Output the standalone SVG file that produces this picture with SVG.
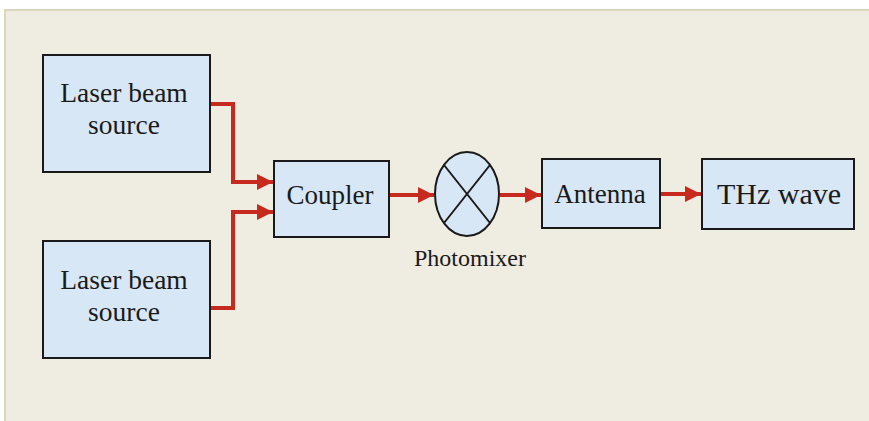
<svg xmlns="http://www.w3.org/2000/svg" width="869" height="421" viewBox="0 0 869 421">
<defs>
<style>
.box{fill:#d8e7f5;stroke:#1a1a1a;stroke-width:2}
.lbl{font-family:"Liberation Serif","Times New Roman",serif;fill:#1a1a1a;text-anchor:middle}
.wire{fill:none;stroke:#c62a1f;stroke-width:4}
</style>
<marker id="arr" viewBox="0 0 16 16" refX="16" refY="8" markerWidth="16" markerHeight="16" markerUnits="userSpaceOnUse" orient="auto">
<path d="M0,0 L16,8 L0,16 Z" fill="#c62a1f"/>
</marker>
</defs>
<rect x="0" y="0" width="869" height="421" fill="#ffffff"/>
<rect x="5" y="10" width="880" height="430" fill="#efece1" stroke="#dcd5c0" stroke-width="2"/>
<g id="connectors">
<path class="wire" d="M211,104 H233 V182 H273" marker-end="url(#arr)"/>
<path class="wire" d="M211,308 H233 V212 H273" marker-end="url(#arr)"/>
<path class="wire" d="M390,195 H434" marker-end="url(#arr)"/>
<path class="wire" d="M500,195 H541" marker-end="url(#arr)"/>
<path class="wire" d="M661,194 H701" marker-end="url(#arr)"/>
</g>
<g id="laser1">
<rect class="box" x="43" y="55" width="167" height="117"/>
<text class="lbl" x="124" y="102" font-size="27.5">Laser beam</text>
<text class="lbl" x="124" y="134" font-size="27.5">source</text>
</g>
<g id="laser2">
<rect class="box" x="43" y="241" width="167" height="117"/>
<text class="lbl" x="124" y="289" font-size="27.5">Laser beam</text>
<text class="lbl" x="124" y="321" font-size="27.5">source</text>
</g>
<g id="coupler">
<rect class="box" x="274" y="161" width="115" height="76"/>
<text class="lbl" x="330" y="204" font-size="27">Coupler</text>
</g>
<g id="photomixer">
<ellipse cx="467" cy="194" rx="32" ry="42" fill="#d8e7f5" stroke="#1a1a1a" stroke-width="2"/>
<line x1="444" y1="165" x2="490" y2="223" stroke="#1a1a1a" stroke-width="2"/>
<line x1="490" y1="165" x2="444" y2="223" stroke="#1a1a1a" stroke-width="2"/>
<text class="lbl" x="470" y="266" font-size="24">Photomixer</text>
</g>
<g id="antenna">
<rect class="box" x="542" y="159" width="118" height="69"/>
<text class="lbl" x="600" y="203" font-size="27">Antenna</text>
</g>
<g id="thz">
<rect class="box" x="702" y="159" width="152" height="70"/>
<text class="lbl" x="779" y="204" font-size="30">THz wave</text>
</g>
</svg>
